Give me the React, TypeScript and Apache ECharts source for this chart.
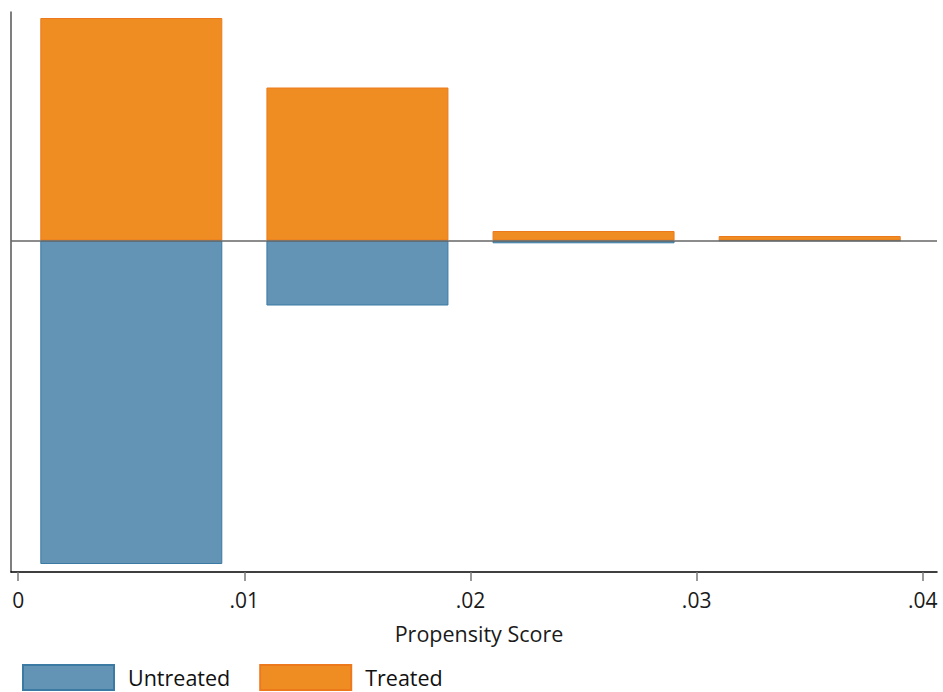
import React, { useEffect, useRef } from "react";
import * as echarts from "echarts";

// Bin centres of the propensity score histogram (bin width .01, bars drawn .008 wide)
const binCenters = [0.005, 0.015, 0.025, 0.035];
// Heights (arbitrary frequency units)
const treatedValues = [222.5, 153, 9.5, 4.5];
const untreatedValues = [323.5, 65, 2.8, 0.3];
const tickValues = [0, 0.01, 0.02, 0.03, 0.04];

const FONT = "Open Sans";

export default function App() {
  const ref = useRef<HTMLDivElement>(null);
  useEffect(() => {
    if (!ref.current) return;
    const chart = echarts.init(ref.current, undefined, { renderer: "svg" });
    const untreated = binCenters.map((x, i) => [x, -untreatedValues[i]]);
    const treated = binCenters.map((x, i) => [x, treatedValues[i]]);
    chart.setOption({
      animation: false,
      backgroundColor: "#ffffff",
      grid: { left: 11, right: 6, top: 12, bottom: 120, containLabel: false },
      xAxis: {
        type: "value",
        min: -0.00032,
        max: 0.04063,
        name: "Propensity Score",
        nameLocation: "middle",
        nameGap: 50,
        nameTextStyle: {
          fontFamily: FONT,
          fontSize: 21.5,
          color: "#1a1a1a",
          padding: [0, 0, 0, 10],
        },
        axisLine: { show: true, onZero: false, lineStyle: { color: "#000", width: 1.5 } },
        axisTick: {
          show: true,
          customValues: tickValues,
          length: 9,
          lineStyle: { color: "#777", width: 1.5 },
        },
        axisLabel: {
          customValues: tickValues,
          margin: 17,
          fontFamily: FONT,
          fontSize: 21,
          color: "#1a1a1a",
          formatter: (v: number) => (v === 0 ? "0" : String(+v.toFixed(4)).replace(/^0\./, ".")),
        },
        splitLine: { show: false },
      },
      yAxis: {
        type: "value",
        min: -331.5,
        max: 228.5,
        axisLine: { show: true, onZero: false, lineStyle: { color: "#555", width: 1.5 } },
        axisTick: { show: false },
        axisLabel: { show: false },
        splitLine: { show: false },
      },
      legend: {
        left: 22,
        top: 664,
        padding: 0,
        itemWidth: 91,
        itemHeight: 25,
        itemGap: 29,
        icon: "rect",
        textStyle: {
          fontFamily: FONT,
          fontSize: 21.5,
          color: "#111",
          padding: [0, 0, 0, 9],
        },
        data: ["Untreated", "Treated"],
      },
      series: [
        {
          type: "line",
          data: [],
          z: 1,
          silent: true,
          markLine: {
            silent: true,
            symbol: "none",
            label: { show: false },
            lineStyle: { color: "#666", width: 1.5, type: "solid" },
            data: [{ yAxis: 0 }],
          },
        },
        {
          name: "Untreated",
          type: "bar",
          data: untreated,
          barWidth: 182,
          barGap: "-100%",
          z: 2,
          itemStyle: { color: "#6394b5", borderColor: "#3a7aa3", borderWidth: 1 },
        },
        {
          name: "Treated",
          type: "bar",
          data: treated,
          barWidth: 182,
          barGap: "-100%",
          z: 2,
          itemStyle: { color: "#f08d22", borderColor: "#ec7a1c", borderWidth: 1 },
        },
      ],
    });
    return () => chart.dispose();
  }, []);
  return <div ref={ref} style={{ width: 943, height: 692, position: "absolute", left: 0, top: 0 }} />;
}
